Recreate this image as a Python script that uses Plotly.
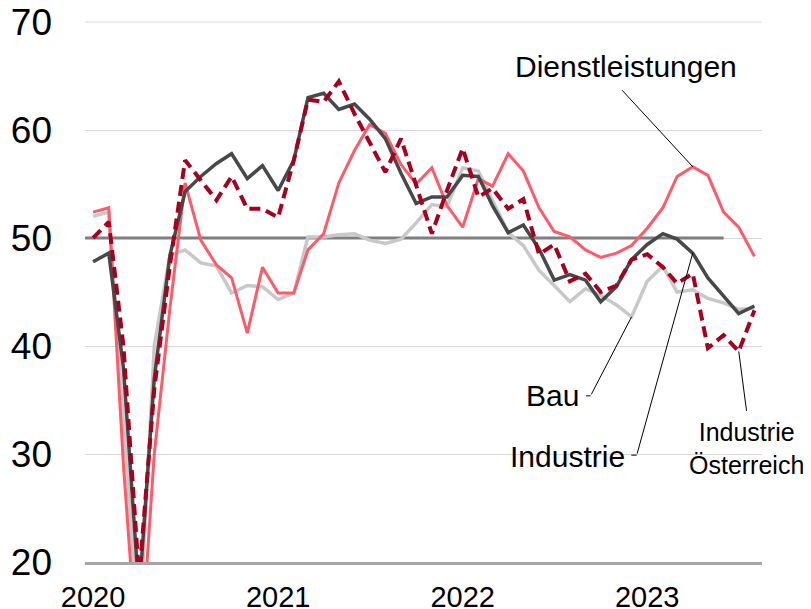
import pandas as pd
import plotly.graph_objects as go

# Monate Jan 2020 - Aug 2023
monate = pd.date_range("2020-01-01", periods=44, freq="MS")

industrie = [47.8, 48.6, 38.0, 17.0, 37.0, 48.4, 54.3, 55.7, 56.9, 57.8, 55.5, 56.7,
             54.4, 57.2, 63.0, 63.4, 61.9, 62.4, 61.0, 59.2, 56.0, 53.2, 53.8, 53.8,
             55.8, 55.7, 53.0, 50.5, 51.2, 49.0, 46.1, 46.6, 46.1, 44.1, 45.5, 48.0,
             49.4, 50.4, 49.9, 48.6, 46.3, 44.6, 43.0, 43.7]

bau = [52.0, 52.4, 33.0, 13.0, 40.0, 48.4, 48.9, 47.7, 47.4, 44.9, 45.6, 45.5,
       44.3, 44.9, 50.1, 50.1, 50.3, 50.4, 49.8, 49.5, 49.9, 51.4, 53.1, 52.9,
       56.5, 56.2, 53.5, 50.5, 49.3, 47.0, 45.6, 44.1, 45.3, 44.7, 43.8, 42.7,
       46.0, 47.4, 45.0, 45.2, 44.4, 44.0, 43.4, 43.5]

dienstleistungen = [52.4, 52.8, 29.0, 9.0, 30.0, 43.5, 55.1, 49.8, 47.5, 46.3, 41.2, 47.3,
                    44.9, 44.9, 48.9, 50.4, 55.1, 58.1, 60.5, 59.7, 56.8, 55.0, 56.5, 53.0,
                    51.0, 55.5, 54.8, 57.8, 56.2, 52.8, 50.6, 50.1, 48.9, 48.2, 48.6, 49.3,
                    50.9, 52.8, 55.7, 56.6, 55.8, 52.4, 51.0, 48.3]

industrie_at = [50.0, 51.5, 40.0, 18.5, 36.0, 47.5, 57.2, 55.4, 53.5, 55.7, 52.7, 52.7,
                51.9, 57.2, 62.8, 62.6, 64.5, 61.5, 58.8, 56.1, 59.2, 54.8, 50.4, 54.4,
                58.3, 53.8, 54.6, 52.7, 53.6, 48.5, 49.4, 46.0, 46.7, 45.0, 45.6, 48.0,
                48.5, 47.3, 45.8, 46.7, 39.8, 41.0, 39.5, 43.3]

jahre = ["2020", "2021", "2022", "2023"]
schwelle = 50
schwelle_bis = "2023-06-01"
x_range = ["2019-12-16", "2023-08-16"]

FONT = "Arial, Liberation Sans, sans-serif"

fig = go.Figure()
# 50er-Linie (unter den Serien)
fig.add_trace(go.Scatter(x=[x_range[0], schwelle_bis], y=[schwelle, schwelle], mode="lines",
                         line=dict(color="#7F7F7F", width=3)))
fig.add_trace(go.Scatter(x=monate, y=bau, mode="lines",
                         line=dict(color="#C8C8C8", width=3.5)))
fig.add_trace(go.Scatter(x=monate, y=dienstleistungen, mode="lines",
                         line=dict(color="#FF5A6A", width=3)))
fig.add_trace(go.Scatter(x=monate, y=industrie, mode="lines",
                         line=dict(color="#484848", width=3.5)))
fig.add_trace(go.Scatter(x=monate, y=industrie_at, mode="lines",
                         line=dict(color="#A6001E", width=4, dash="11px,6px")))

# oberste Gitterlinie (am Rand wird sie sonst nicht gezeichnet)
fig.add_shape(type="line", xref="paper", yref="paper", x0=0, x1=1, y0=1, y1=1,
              layer="below", line=dict(color="#D9D9D9", width=1))

# Beschriftungen: (Text, Punkt-Index, Serie, Textversatz, Leader-Ende, Haken, Schriftgröße)
labels = [
    ("Dienstleistungen", 39, dienstleistungen, (-67, 100), (-72, -78), None, 30),
    ("Bau", 35, bau, (-79, -79), (-41, 79), 6, 30),
    ("Industrie", 39, industrie, (-125, -203), (-56, 202), 7, 30),
    ("Industrie<br>Österreich", 42, industrie_at, (8, -97), (8, 61), None, 25),
]
for text, i, serie, (dx, dy), (ax, ay), hook, size in labels:
    fig.add_annotation(x=monate[i], y=serie[i], text=text, showarrow=False,
                       xshift=dx, yshift=dy, font=dict(family=FONT, size=size, color="black"))
    fig.add_annotation(x=monate[i], y=serie[i], text="", showarrow=True, arrowhead=0,
                       arrowwidth=1, arrowcolor="black", ax=ax, ay=ay, standoff=0)
    if hook:
        fig.add_annotation(x=monate[i], y=serie[i], text="", showarrow=True, arrowhead=0,
                           arrowwidth=1, arrowcolor="black", ax=-hook, ay=0,
                           xshift=ax, yshift=-ay)

# Seite hat 8px Rand -> Ränder entsprechend kleiner
fig.update_layout(
    width=811, height=609,
    margin=dict(l=77, r=57, t=14, b=55, autoexpand=False),
    plot_bgcolor="white", paper_bgcolor="white",
    showlegend=False,
    font=dict(family=FONT, size=29, color="black"),
)
fig.update_xaxes(type="date", range=x_range,
                 tickvals=[f"{j}-01-01" for j in jahre], ticktext=jahre,
                 showgrid=False, zeroline=False, ticks="",
                 showline=True, linecolor="#A6A6A6", linewidth=3,
                 ticklabelstandoff=7, ticklabeloverflow="allow", automargin=False)
fig.update_yaxes(range=[20, 70], tickvals=[20, 30, 40, 50, 60, 70],
                 showgrid=True, gridcolor="#D9D9D9",
                 gridwidth=1, zeroline=False, showline=False, ticks="",
                 tickfont=dict(size=37), ticklabelstandoff=32,
                 ticklabeloverflow="allow", automargin=False)

fig.write_html("out.html")
